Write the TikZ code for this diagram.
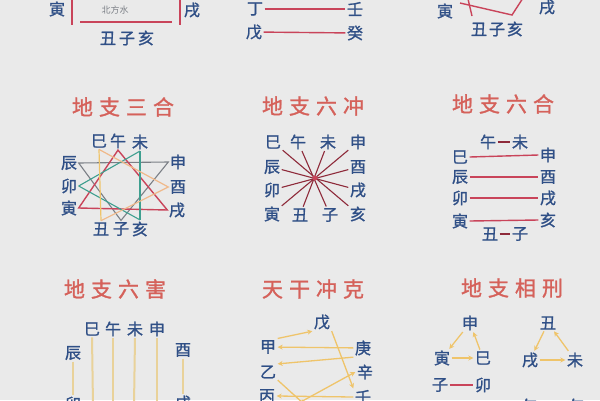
\documentclass[tikz,border=0pt]{standalone}
\usepackage{fontspec}
\newfontfamily\cjk{Noto Sans CJK SC}
\newfontfamily\cjkm{Noto Sans CJK SC}[FakeBold=1.2]
\usetikzlibrary{arrows.meta}
\definecolor{bg}{HTML}{EAEAEA}
\definecolor{inkblue}{HTML}{2F4F86}
\definecolor{titlered}{HTML}{D5615A}
\definecolor{linered}{HTML}{C9445A}
\definecolor{darkred}{HTML}{8E2A3A}
\definecolor{lgray}{HTML}{7B7F86}
\definecolor{lteal}{HTML}{3E9F8F}
\definecolor{lyellow}{HTML}{EFC46A}
\definecolor{lpeach}{HTML}{F0B98A}
\definecolor{lcream}{HTML}{E9D29A}
\newcommand\tsp{\hspace{6pt}}
\tikzset{
  ch/.style={text=inkblue, font=\cjkm\fontsize{16}{16}\selectfont, inner sep=1.5pt},
  ttl/.style={text=titlered, font=\cjkm\fontsize{21}{21}\selectfont, inner sep=0pt},
  small/.style={text=lgray, font=\cjk\fontsize{9}{9}\selectfont, inner sep=0pt},
  rl/.style={draw=linered, line width=1.4pt},
  dl/.style={draw=darkred, line width=1.1pt},
  gl/.style={draw=lgray, line width=1.1pt},
  tl/.style={draw=lteal, line width=1.1pt},
  yl/.style={draw=lyellow, line width=1.2pt},
  pl/.style={draw=lpeach, line width=1.2pt},
  cl/.style={draw=lcream, line width=2pt},
  ya/.style={draw=lyellow, line width=1.3pt, -{Stealth[length=5pt,width=5pt]}},
}
\begin{document}
\begin{tikzpicture}[x=1pt,y=-1pt]
\clip (0,0) rectangle (600,400);
\fill[bg] (0,0) rectangle (600,400);

% ---------- top strip (cut off) ----------
\node[ch] (tyin) at (57,9) {寅};
\node[ch] (txu) at (192,10) {戌};
\node[small] (tbf) at (115,10) {北方水};
\node[ch] (tczh) at (127,38) {丑\hspace{3pt}子\hspace{3pt}亥};
\coordinate (tl1a) at (72,-2); \coordinate (tl1b) at (72,25);
\coordinate (tl2a) at (180,-2); \coordinate (tl2b) at (180,25);
\coordinate (tl3a) at (80,22); \coordinate (tl3b) at (172,22);
\draw[rl] (tl1a) -- (tl1b);
\draw[rl] (tl2a) -- (tl2b);
\draw[rl] (tl3a) -- (tl3b);

\node[ch] (tding) at (255,9) {丁};
\node[ch] (twu) at (254,32) {戊};
\node[ch] (tren) at (355,9) {壬};
\node[ch] (tgui) at (355,33) {癸};
\draw[rl] (tding) -- (tren);
\draw[rl] (twu) -- (tgui);

\node[ch] (ryin) at (445,11) {寅};
\node[ch] (rxu) at (547,7) {戌};
\node[ch] (rczh) at (497,29) {丑\hspace{2pt}子\hspace{2pt}亥};
\coordinate (rp1) at (460,3); \coordinate (rp2) at (512,15); \coordinate (rp3) at (523,-2);
\coordinate (rq1) at (468,-1); \coordinate (rq2) at (472,16);
\draw[rl] (rp1) -- (rp2) -- (rp3);
\draw[rl] (rq1) -- (rq2);

% ---------- 地支三合 ----------
\node[ttl] (t1) at (123,107) {地\tsp 支\tsp 三\tsp 合};
\node[ch] (si) at (99,141) {巳};
\node[ch] (wu) at (118,141) {午};
\node[ch] (wei) at (140,142) {未};
\node[ch] (chen) at (69,163) {辰};
\node[ch] (mao) at (69,186) {卯};
\node[ch] (yin) at (69,208) {寅};
\node[ch] (shen) at (178,162) {申};
\node[ch] (you) at (178,187) {酉};
\node[ch] (xu) at (177,210) {戌};
\node[ch] (chou) at (101,229) {丑};
\node[ch] (zi) at (121,229) {子};
\node[ch] (hai) at (140,229) {亥};
\draw[gl] (chen.east) -- (shen.west) -- (zi.north) -- cycle;
\draw[rl] (yin.east) -- (xu.west) -- (wu.south) -- cycle;
\draw[tl] (wei.south) -- (hai.north);
\draw[tl] (mao.east) -- (wei.south);
\draw[tl] (mao.east) -- (hai.north);
\draw[yl] (si.south) -- (chou.north);
\draw[pl] (si.south) -- (you.west) -- (chou.north);

% ---------- 地支六冲 ----------
\node[ttl] (t2) at (313,106) {地\tsp 支\tsp 六\tsp 冲};
\node[ch] (si2) at (273,142) {巳};
\node[ch] (wu2) at (298,142) {午};
\node[ch] (wei2) at (328,142) {未};
\node[ch] (shen2) at (358,142) {申};
\node[ch] (chen2) at (272,167) {辰};
\node[ch] (you2) at (358,167) {酉};
\node[ch] (mao2) at (272,190) {卯};
\node[ch] (xu2) at (358,190) {戌};
\node[ch] (yin2) at (272,214) {寅};
\node[ch] (chou2) at (300,215) {丑};
\node[ch] (zi2) at (330,215) {子};
\node[ch] (hai2) at (358,214) {亥};
\draw[dl] (si2) -- (hai2);
\draw[dl] (wu2) -- (zi2);
\draw[dl] (wei2) -- (chou2);
\draw[dl] (shen2) -- (yin2);
\draw[dl] (chen2) -- (xu2);
\draw[dl] (mao2) -- (you2);
\coordinate (cen) at (315,178);
\fill[linered] (cen) circle (2.5pt);

% ---------- 地支六合 ----------
\node[ttl] (t3) at (503,104) {地\tsp 支\tsp 六\tsp 合};
\node[ch] (wu3) at (488,142) {午};
\node[ch] (wei3) at (520,142) {未};
\node[ch] (si3) at (460,157) {巳};
\node[ch] (shen3) at (548,155) {申};
\node[ch] (chen3) at (460,177) {辰};
\node[ch] (you3) at (548,177) {酉};
\node[ch] (mao3) at (460,198) {卯};
\node[ch] (xu3) at (548,198) {戌};
\node[ch] (yin3) at (460,221) {寅};
\node[ch] (hai3) at (548,220) {亥};
\node[ch] (chou3) at (490,234) {丑};
\node[ch] (zi3) at (520,234) {子};
\draw[dl] (wu3) -- (wei3);
\draw[rl] (si3.east) -- (shen3.west);
\draw[rl] (chen3) -- (you3);
\draw[rl] (mao3) -- (xu3);
\draw[rl] (yin3.east) -- (hai3.west);
\draw[dl] (chou3) -- (zi3);

% ---------- 地支六害 ----------
\node[ttl] (t4) at (115,289) {地\tsp 支\tsp 六\tsp 害};
\node[ch] (si4) at (92,329) {巳};
\node[ch] (wu4) at (113,329) {午};
\node[ch] (wei4) at (135,329) {未};
\node[ch] (shen4) at (157,329) {申};
\node[ch] (chen4) at (73,353) {辰};
\node[ch] (you4) at (183,350) {酉};
\node[ch] (mao4) at (73,404) {卯};
\node[ch] (xu4) at (183,403) {戌};
\coordinate (e1) at (93,405); \coordinate (e2) at (113,405);
\coordinate (e3) at (134,405); \coordinate (e4) at (157,405);
\draw[cl] (si4.south) -- (e1);
\draw[cl] (wu4.south) -- (e2);
\draw[cl] (wei4.south) -- (e3);
\draw[cl] (shen4.south) -- (e4);
\draw[cl] (chen4.south) -- (mao4.north);
\draw[cl] (you4.south) -- (xu4.north);

% ---------- 天干冲克 ----------
\node[ttl] (t5) at (313,289) {天\tsp 干\tsp 冲\tsp 克};
\node[ch] (wu5) at (322,322) {戊};
\node[ch] (jia) at (268,347) {甲};
\node[ch] (geng) at (363,348) {庚};
\node[ch] (yi) at (268,372) {乙};
\node[ch] (xin) at (365,372) {辛};
\node[ch] (bing) at (267,396) {丙};
\node[ch] (ren) at (363,397) {壬};
\coordinate (f1) at (297,404); \coordinate (f2) at (304,404);
\draw[ya] (jia.north east) -- (wu5.south west);
\draw[ya] (geng) -- (jia);
\draw[ya] (wu5.south east) -- (ren.north west);
\draw[ya] (geng.south west) -- (yi.north east);
\draw[ya] (f1) -- (xin.west);
\draw[ya] (yi.south east) -- (f2);
\draw[ya] (ren.west) -- (bing.east);

% ---------- 地支相刑 ----------
\node[ttl] (t6) at (512,288) {地\tsp 支\tsp 相\tsp 刑};
\node[ch] (shen6) at (470,323) {申};
\node[ch] (yin6) at (442,358) {寅};
\node[ch] (si6) at (483,358) {巳};
\node[ch] (zi6) at (440,385) {子};
\node[ch] (mao6) at (483,385) {卯};
\node[ch] (chou6) at (548,323) {丑};
\node[ch] (xu6) at (530,360) {戌};
\node[ch] (wei6) at (575,360) {未};
\node[ch] (wa) at (530,406) {午};
\node[ch] (wb) at (577,406) {午};
\draw[ya] (yin6) -- (si6);
\draw[ya] (si6) -- (shen6);
\draw[ya] (shen6) -- (yin6);
\draw[dl, draw=linered] (zi6) -- (mao6);
\draw[ya] (chou6) -- (xu6);
\draw[ya] (xu6) -- (wei6);
\draw[ya] (wei6) -- (chou6);
\end{tikzpicture}
\end{document}
